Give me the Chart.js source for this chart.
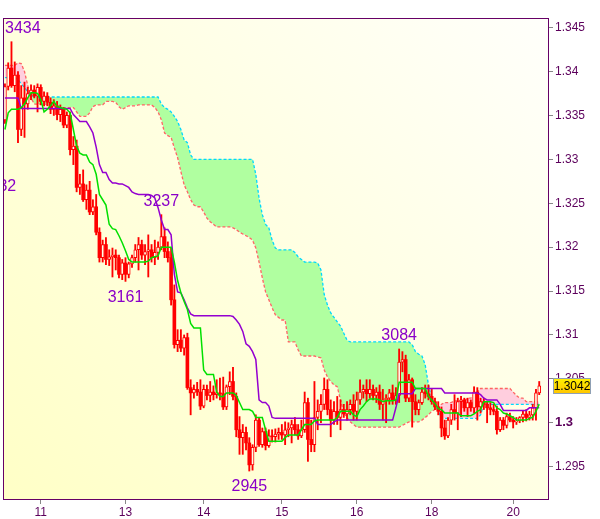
<!DOCTYPE html>
<html>
<head>
<meta charset="utf-8">
<script src="https://cdn.jsdelivr.net/npm/chart.js@4.4.1/dist/chart.umd.min.js"></script>
<style>
  html, body { margin: 0; padding: 0; background: #ffffff; }
  #wrap { width: 600px; height: 519px; }
</style>
</head>
<body>
<div id="wrap"><canvas id="ichimokuChart" width="600" height="519"></canvas></div>
<script>
// hourly bars, index 0..164
const dayTickIdx = [11, 37, 61, 85, 108, 131, 156];
const dayTickLbl = ['11', '13', '14', '15', '16', '18', '20'];
const priceTicks = [1.295, 1.3, 1.305, 1.31, 1.315, 1.32, 1.325, 1.33, 1.335, 1.34, 1.345];

const opens = [
  1.3345,1.3383,1.3404,1.3384,1.3396,1.3334,1.3370,1.3363,1.3375,1.3379,
  1.3372,1.3382,1.3366,1.3372,1.3365,1.3357,1.3361,1.3351,1.3357,1.3339,
  1.3350,1.3311,1.3315,1.3268,1.3272,1.3254,1.3265,1.3240,1.3246,1.3217,
  1.3188,1.3203,1.3186,1.3189,1.3191,1.3188,1.3169,1.3182,1.3169,1.3181,
  1.3188,1.3197,1.3203,1.3191,1.3195,1.3197,1.3188,1.3194,1.3200,1.3212,
  1.3195,1.3188,1.3140,1.3089,1.3094,1.3085,1.3097,1.3040,1.3034,1.3038,
  1.3035,1.3019,1.3038,1.3031,1.3035,1.3032,1.3034,1.3033,1.3018,1.3041,
  1.3047,1.3030,1.2992,1.2983,1.2989,1.2977,1.2952,1.2972,1.3003,1.2975,
  1.2990,1.2974,1.2985,1.2984,1.2987,1.2989,1.2986,1.2992,1.2994,1.2998,
  1.2992,1.2985,1.2992,1.3023,1.2981,1.2975,1.3006,1.3013,1.3021,1.3038,
  1.3015,1.3003,1.3013,1.3006,1.3015,1.3010,1.3015,1.3021,1.3013,1.3026,
  1.3035,1.3038,1.3033,1.3038,1.3031,1.3035,1.3021,1.3026,1.3028,1.3034,
  1.3026,1.3031,1.3069,1.3072,1.3028,1.3049,1.3024,1.3015,1.3023,1.3035,
  1.3033,1.3030,1.3024,1.3018,1.3013,1.2994,1.2985,1.3003,1.3015,1.3011,
  1.3024,1.3026,1.3017,1.3023,1.3017,1.3035,1.3018,1.3024,1.3021,1.3017,
  1.3015,1.3013,1.2992,1.3003,1.2997,1.3007,1.3003,1.3001,1.3002,1.3006,
  1.3010,1.3006,1.3009,1.3017,1.3034
];
const highs = [
  1.3386,1.3410,1.3434,1.3411,1.3400,1.3384,1.3388,1.3382,1.3385,1.3384,
  1.3386,1.3385,1.3377,1.3376,1.3370,1.3368,1.3366,1.3362,1.3359,1.3354,
  1.3354,1.3326,1.3322,1.3283,1.3288,1.3271,1.3275,1.3254,1.3260,1.3222,
  1.3208,1.3211,1.3197,1.3199,1.3197,1.3191,1.3186,1.3188,1.3183,1.3191,
  1.3203,1.3211,1.3208,1.3203,1.3214,1.3203,1.3208,1.3206,1.3237,1.3222,
  1.3206,1.3199,1.3157,1.3106,1.3106,1.3100,1.3102,1.3049,1.3043,1.3046,
  1.3049,1.3043,1.3043,1.3047,1.3042,1.3049,1.3051,1.3052,1.3043,1.3058,
  1.3063,1.3034,1.3007,1.2998,1.2995,1.2983,1.2975,1.3009,1.3006,1.2994,
  1.2994,1.2992,1.2992,1.2993,1.2994,1.2998,1.3001,1.3000,1.3003,1.3006,
  1.2998,1.3003,1.3035,1.3028,1.3003,1.3047,1.3026,1.3032,1.3051,1.3049,
  1.3026,1.3024,1.3030,1.3026,1.3021,1.3024,1.3026,1.3032,1.3035,1.3049,
  1.3043,1.3049,1.3049,1.3043,1.3040,1.3043,1.3038,1.3032,1.3038,1.3043,
  1.3040,1.3084,1.3081,1.3077,1.3055,1.3051,1.3032,1.3026,1.3040,1.3043,
  1.3043,1.3038,1.3028,1.3024,1.3018,1.3003,1.3006,1.3021,1.3032,1.3028,
  1.3030,1.3028,1.3028,1.3026,1.3041,1.3040,1.3028,1.3028,1.3024,1.3023,
  1.3021,1.3019,1.3006,1.3006,1.3011,1.3011,1.3007,1.3006,1.3007,1.3013,
  1.3015,1.3013,1.3021,1.3038,1.3047
];
const lows = [
  1.3341,1.3379,1.3382,1.3377,1.3319,1.3327,1.3325,1.3357,1.3368,1.3370,
  1.3354,1.3362,1.3361,1.3361,1.3352,1.3350,1.3345,1.3343,1.3336,1.3336,
  1.3305,1.3294,1.3263,1.3260,1.3252,1.3243,1.3237,1.3237,1.3214,1.3183,
  1.3183,1.3180,1.3179,1.3166,1.3174,1.3165,1.3163,1.3161,1.3165,1.3177,
  1.3183,1.3174,1.3186,1.3180,1.3166,1.3183,1.3180,1.3186,1.3197,1.3188,
  1.3183,1.3134,1.3085,1.3081,1.3081,1.3077,1.3038,1.3009,1.3028,1.3031,
  1.3015,1.3017,1.3026,1.3024,1.3026,1.3028,1.3026,1.3015,1.3015,1.3032,
  1.3026,1.2984,1.2964,1.2964,1.2969,1.2945,1.2946,1.2967,1.2973,1.2972,
  1.2969,1.2972,1.2978,1.2978,1.2981,1.2981,1.2975,1.2984,1.2977,1.2986,
  1.2981,1.2983,1.2989,1.2956,1.2967,1.2967,1.2992,1.3000,1.3015,1.3009,
  1.2984,1.2998,1.2998,1.2992,1.3006,1.3003,1.3009,1.3003,1.3003,1.3021,
  1.3028,1.3024,1.3028,1.3026,1.3023,1.3015,1.3003,1.3000,1.3021,1.3021,
  1.3021,1.3023,1.3058,1.3024,1.3024,1.2995,1.3009,1.3009,1.3021,1.3028,
  1.3026,1.3021,1.3015,1.3009,1.2984,1.2981,1.2983,1.2998,1.3003,1.2992,
  1.3007,1.3013,1.3007,1.3013,1.3011,1.3003,1.3011,1.3015,1.3000,1.3009,
  1.3009,1.2987,1.2990,1.2992,1.2994,1.3001,1.2994,1.2998,1.3000,1.3001,
  1.3002,1.3003,1.3003,1.3003,1.3032
];
const closes = [
  1.3383,1.3404,1.3384,1.3396,1.3334,1.3370,1.3363,1.3375,1.3379,1.3372,
  1.3382,1.3366,1.3372,1.3365,1.3357,1.3361,1.3351,1.3357,1.3339,1.3350,
  1.3311,1.3315,1.3268,1.3272,1.3254,1.3265,1.3240,1.3246,1.3217,1.3188,
  1.3203,1.3186,1.3189,1.3191,1.3188,1.3169,1.3182,1.3169,1.3181,1.3188,
  1.3197,1.3203,1.3191,1.3195,1.3197,1.3188,1.3194,1.3200,1.3212,1.3195,
  1.3188,1.3140,1.3089,1.3094,1.3085,1.3097,1.3040,1.3034,1.3038,1.3035,
  1.3019,1.3038,1.3031,1.3035,1.3032,1.3034,1.3033,1.3018,1.3041,1.3047,
  1.3030,1.2992,1.2983,1.2989,1.2977,1.2952,1.2972,1.3003,1.2975,1.2990,
  1.2974,1.2985,1.2984,1.2987,1.2989,1.2986,1.2992,1.2994,1.2998,1.2992,
  1.2985,1.2992,1.3023,1.2981,1.2975,1.3006,1.3013,1.3021,1.3038,1.3015,
  1.3003,1.3013,1.3006,1.3015,1.3010,1.3015,1.3021,1.3013,1.3026,1.3035,
  1.3038,1.3033,1.3038,1.3031,1.3035,1.3021,1.3026,1.3028,1.3034,1.3026,
  1.3031,1.3069,1.3072,1.3028,1.3049,1.3024,1.3015,1.3023,1.3035,1.3033,
  1.3030,1.3024,1.3018,1.3013,1.2994,1.2985,1.3003,1.3015,1.3011,1.3024,
  1.3026,1.3017,1.3023,1.3017,1.3035,1.3018,1.3024,1.3021,1.3017,1.3015,
  1.3013,1.2992,1.3003,1.2997,1.3007,1.3003,1.3001,1.3002,1.3006,1.3010,
  1.3006,1.3009,1.3017,1.3034,1.3042
];

const tenkan = [
  1.3334,1.3353,1.3357,1.3357,1.3357,1.3359,1.3363,1.3370,1.3376,1.3376,
  1.3375,1.3368,1.3354,1.3357,1.3361,1.3366,1.3360,1.3359,1.3358,1.3357,
  1.3353,1.3334,1.3315,1.3307,1.3305,1.3305,1.3297,1.3294,1.3283,1.3260,
  1.3254,1.3248,1.3226,1.3221,1.3220,1.3213,1.3205,1.3196,1.3186,1.3183,
  1.3183,1.3183,1.3183,1.3183,1.3184,1.3188,1.3189,1.3190,1.3200,1.3200,
  1.3200,1.3200,1.3183,1.3162,1.3148,1.3138,1.3129,1.3113,1.3108,1.3108,
  1.3108,1.3060,1.3055,1.3055,1.3055,1.3035,1.3030,1.3030,1.3034,1.3034,
  1.3034,1.3031,1.3023,1.3015,1.3015,1.3015,1.3013,1.3006,1.3006,1.3006,
  1.2992,1.2979,1.2979,1.2979,1.2979,1.2979,1.2983,1.2986,1.2986,1.2986,
  1.2986,1.2992,1.2998,1.2998,1.2998,1.3002,1.3003,1.3003,1.3003,1.3003,
  1.3003,1.3003,1.3006,1.3013,1.3013,1.3013,1.3013,1.3009,1.3007,1.3015,
  1.3019,1.3024,1.3027,1.3027,1.3027,1.3026,1.3024,1.3025,1.3025,1.3025,
  1.3026,1.3046,1.3046,1.3046,1.3046,1.3046,1.3039,1.3039,1.3039,1.3039,
  1.3030,1.3026,1.3022,1.3016,1.3015,1.3011,1.3011,1.3011,1.3011,1.3011,
  1.3008,1.3008,1.3008,1.3008,1.3010,1.3013,1.3015,1.3024,1.3024,1.3024,
  1.3023,1.3017,1.3015,1.3011,1.3010,1.3008,1.3006,1.3003,1.3003,1.3003,
  1.3003,1.3005,1.3006,1.3013,1.3021
];
const kijun = [
  1.3370,1.3370,1.3370,1.3370,1.3370,1.3358,1.3358,1.3358,1.3358,1.3358,
  1.3358,1.3358,1.3358,1.3358,1.3358,1.3358,1.3358,1.3358,1.3358,1.3358,
  1.3358,1.3351,1.3347,1.3343,1.3343,1.3343,1.3337,1.3330,1.3314,1.3294,
  1.3285,1.3285,1.3277,1.3273,1.3273,1.3272,1.3272,1.3270,1.3268,1.3263,
  1.3261,1.3260,1.3260,1.3260,1.3260,1.3259,1.3256,1.3245,1.3231,1.3220,
  1.3220,1.3214,1.3169,1.3149,1.3148,1.3140,1.3131,1.3124,1.3122,1.3122,
  1.3122,1.3122,1.3122,1.3122,1.3122,1.3122,1.3122,1.3122,1.3122,1.3122,
  1.3121,1.3117,1.3112,1.3104,1.3090,1.3087,1.3081,1.3072,1.3026,1.3023,
  1.3023,1.3019,1.3006,1.3005,1.3005,1.3005,1.3005,1.3005,1.3005,1.3005,
  1.3005,1.3005,1.3005,1.3005,1.3005,1.3005,1.2998,1.2998,1.2998,1.2998,
  1.2998,1.3001,1.3003,1.3003,1.3003,1.3003,1.3003,1.3003,1.3003,1.3003,
  1.3003,1.3003,1.3003,1.3003,1.3003,1.3003,1.3003,1.3003,1.3003,1.3003,
  1.3017,1.3033,1.3033,1.3033,1.3033,1.3033,1.3039,1.3039,1.3039,1.3039,
  1.3039,1.3039,1.3039,1.3039,1.3039,1.3034,1.3034,1.3034,1.3034,1.3034,
  1.3034,1.3034,1.3034,1.3034,1.3034,1.3034,1.3032,1.3028,1.3026,1.3026,
  1.3026,1.3026,1.3021,1.3014,1.3014,1.3014,1.3014,1.3014,1.3014,1.3014,
  1.3014,1.3017,1.3017,1.3017,1.3017
];
const spanA = [
  1.3393,1.3393,1.3393,1.3393,1.3391,1.3386,1.3382,1.3377,1.3374,1.3371,
  1.3371,1.3371,1.3371,1.3371,1.3371,1.3371,1.3371,1.3371,1.3371,1.3371,
  1.3371,1.3371,1.3371,1.3371,1.3371,1.3371,1.3371,1.3371,1.3371,1.3371,
  1.3371,1.3371,1.3371,1.3371,1.3371,1.3371,1.3371,1.3371,1.3371,1.3371,
  1.3371,1.3371,1.3371,1.3371,1.3371,1.3371,1.3371,1.3371,1.3363,1.3359,
  1.3357,1.3354,1.3349,1.3343,1.3334,1.3322,1.3319,1.3305,1.3300,1.3300,
  1.3300,1.3300,1.3300,1.3300,1.3300,1.3300,1.3300,1.3300,1.3300,1.3300,
  1.3300,1.3300,1.3300,1.3300,1.3300,1.3300,1.3300,1.3283,1.3256,1.3237,
  1.3226,1.3222,1.3208,1.3199,1.3197,1.3197,1.3197,1.3197,1.3197,1.3194,
  1.3189,1.3186,1.3183,1.3183,1.3183,1.3183,1.3182,1.3174,1.3146,1.3134,
  1.3125,1.3120,1.3115,1.3110,1.3102,1.3094,1.3092,1.3092,1.3092,1.3092,
  1.3092,1.3092,1.3092,1.3092,1.3092,1.3092,1.3092,1.3092,1.3092,1.3092,
  1.3092,1.3092,1.3092,1.3092,1.3092,1.3089,1.3081,1.3078,1.3076,1.3066,
  1.3043,1.3028,1.3021,1.3013,1.3005,1.3005,1.3005,1.3005,1.3005,1.3005,
  1.3005,1.3005,1.3005,1.3005,1.3005,1.3005,1.3009,1.3021,1.3021,1.3021,
  1.3021,1.3021,1.3021,1.3021,1.3021,1.3021,1.3021,1.3021,1.3021,1.3021,
  1.3021,1.3021,1.3021,1.3021,1.3021
];
const spanB = [
  1.3407,1.3407,1.3407,1.3407,1.3410,1.3409,1.3400,1.3384,1.3370,1.3363,
  1.3363,1.3363,1.3363,1.3363,1.3359,1.3359,1.3359,1.3359,1.3359,1.3359,
  1.3359,1.3359,1.3354,1.3349,1.3349,1.3349,1.3353,1.3360,1.3362,1.3362,
  1.3362,1.3366,1.3366,1.3366,1.3365,1.3360,1.3357,1.3359,1.3361,1.3361,
  1.3361,1.3362,1.3362,1.3362,1.3362,1.3362,1.3359,1.3354,1.3345,1.3330,
  1.3327,1.3325,1.3313,1.3302,1.3286,1.3271,1.3263,1.3254,1.3248,1.3246,
  1.3246,1.3240,1.3233,1.3229,1.3226,1.3223,1.3223,1.3223,1.3223,1.3223,
  1.3222,1.3220,1.3217,1.3215,1.3213,1.3211,1.3208,1.3199,1.3183,1.3165,
  1.3149,1.3140,1.3131,1.3123,1.3120,1.3117,1.3117,1.3092,1.3092,1.3092,
  1.3083,1.3076,1.3076,1.3076,1.3076,1.3076,1.3075,1.3074,1.3060,1.3052,
  1.3047,1.3043,1.3041,1.3026,1.3011,1.3006,1.3001,1.2998,1.2995,1.2995,
  1.2995,1.2995,1.2995,1.2995,1.2995,1.2995,1.2995,1.2995,1.2995,1.2995,
  1.2995,1.2995,1.2997,1.2999,1.3001,1.3001,1.3001,1.3001,1.3003,1.3006,
  1.3009,1.3013,1.3015,1.3018,1.3021,1.3023,1.3023,1.3023,1.3025,1.3025,
  1.3025,1.3025,1.3028,1.3028,1.3032,1.3035,1.3039,1.3039,1.3039,1.3039,
  1.3039,1.3039,1.3039,1.3039,1.3039,1.3039,1.3035,1.3031,1.3028,1.3028,
  1.3024,1.3024,1.3024,1.3024,1.3024
];

// last 4 digits of highs / lows written on the chart
const hiLoMarks = [
  { i: 2, v: 1.3434, text: '3434', pos: 'above' },
  { i: -2, v: 1.3287, text: '3332', pos: 'below' },
  { i: 48, v: 1.3237, text: '3237', pos: 'above' },
  { i: 37, v: 1.3161, text: '3161', pos: 'below' },
  { i: 75, v: 1.2945, text: '2945', pos: 'below' },
  { i: 121, v: 1.3084, text: '3084', pos: 'above' }
];

const FONT = '"Liberation Sans", Arial, sans-serif';
const axisColor = '#5c005c';
const frameColor = '#660066';

const wicks = [], bullBodies = [], bearBodies = [];
for (let i = 0; i < closes.length; i++) {
  wicks.push({ x: i, y: [lows[i], highs[i]] });
  if (closes[i] >= opens[i]) bullBodies.push({ x: i, y: [opens[i], closes[i]] });
  else bearBodies.push({ x: i, y: [closes[i], opens[i]] });
}
const toXY = arr => arr.map((v, i) => ({ x: i, y: v }));

const backgroundPlugin = {
  id: 'backgroundPlugin',
  beforeDraw(chart) {
    const { ctx, chartArea: a } = chart;
    ctx.save();
    ctx.fillStyle = '#ffffff';
    ctx.fillRect(0, 0, chart.width, chart.height);
    const g = ctx.createLinearGradient(a.right, a.top, a.left, a.bottom);
    g.addColorStop(0, '#fffffb');
    g.addColorStop(1, '#ffffc6');
    ctx.fillStyle = g;
    ctx.fillRect(a.left, a.top, a.right - a.left, a.bottom - a.top);
    ctx.restore();
  }
};

const overlayPlugin = {
  id: 'overlayPlugin',
  afterDatasetsDraw(chart) {
    const { ctx, chartArea: a } = chart;
    const xs = chart.scales.x, ys = chart.scales.y;
    ctx.save();
    ctx.beginPath();
    ctx.rect(a.left, a.top, a.right - a.left, a.bottom - a.top);
    ctx.clip();
    ctx.font = '16px ' + FONT;
    ctx.fillStyle = '#8a00c8';
    ctx.textAlign = 'center';
    ctx.textBaseline = 'middle';
    hiLoMarks.forEach(m => {
      let x = xs.getPixelForValue(m.i);
      const w = ctx.measureText(m.text).width;
      if (m.i >= 0) x = Math.max(x, a.left + w / 2 + 2);
      const y = ys.getPixelForValue(m.v) + (m.pos === 'above' ? -13 : 16);
      ctx.fillText(m.text, x, y);
    });
    ctx.restore();
  },
  afterDraw(chart) {
    const { ctx, chartArea: a } = chart;
    const ys = chart.scales.y;
    ctx.save();
    ctx.strokeStyle = frameColor;
    ctx.lineWidth = 1;
    ctx.strokeRect(Math.round(a.left) + 0.5, Math.round(a.top) + 0.5,
      Math.round(a.right - a.left) - 1, Math.round(a.bottom - a.top) - 1);

    // current price box
    const last = closes[closes.length - 1];
    const y = Math.round(ys.getPixelForValue(last));
    const bx = a.right + 4, bw = 38, bh = 16, by = y - 8;
    const g = ctx.createLinearGradient(0, by, 0, by + bh);
    g.addColorStop(0, '#fff200');
    g.addColorStop(1, '#ffc400');
    ctx.fillStyle = g;
    ctx.fillRect(bx, by, bw, bh);
    ctx.strokeStyle = '#8fa0b4';
    ctx.strokeRect(bx + 0.5, by + 0.5, bw - 1, bh - 1);
    ctx.fillStyle = '#000000';
    ctx.font = '12px ' + FONT;
    ctx.textAlign = 'center';
    ctx.textBaseline = 'middle';
    ctx.fillText(last.toFixed(4), bx + bw / 2, y + 1);
    ctx.restore();
  }
};

const ctx = document.getElementById('ichimokuChart').getContext('2d');
const ichimokuChart = new Chart(ctx, {
  type: 'bar',
  data: {
    datasets: [
      {
        type: 'line', label: 'Senkou B', data: toXY(spanB), order: 10,
        borderColor: '#ff6464', borderWidth: 1.3, borderDash: [3, 2],
        pointRadius: 0, tension: 0, fill: false
      },
      {
        type: 'line', label: 'Senkou A', data: toXY(spanA), order: 9,
        borderColor: '#00d8ff', borderWidth: 1.3, borderDash: [3, 2],
        pointRadius: 0, tension: 0,
        fill: { target: 0, above: 'rgb(176,255,160)', below: 'rgb(255,206,222)' }
      },
      {
        label: 'Wick', data: wicks, order: 8, grouped: false,
        backgroundColor: '#ff0000', barThickness: 1.2, borderWidth: 0
      },
      {
        label: 'Down', data: bearBodies, order: 7, grouped: false,
        backgroundColor: '#ff0000', borderColor: '#ff0000', borderWidth: 0,
        barThickness: 3
      },
      {
        label: 'Up', data: bullBodies, order: 6, grouped: false,
        backgroundColor: '#ffffe8', borderColor: '#ff0000', borderWidth: 1,
        borderSkipped: false, barThickness: 3
      },
      {
        type: 'line', label: 'Kijun', data: toXY(kijun), order: 2,
        borderColor: '#9400d0', borderWidth: 1.5, pointRadius: 0, tension: 0, fill: false
      },
      {
        type: 'line', label: 'Tenkan', data: toXY(tenkan), order: 1,
        borderColor: '#00e000', borderWidth: 1.5, pointRadius: 0, tension: 0, fill: false
      }
    ]
  },
  options: {
    responsive: false,
    animation: false,
    devicePixelRatio: 1,
    layout: { padding: { top: 18, left: 3, right: 0, bottom: 0 } },
    plugins: {
      legend: { display: false },
      tooltip: { enabled: false },
      filler: { drawTime: 'beforeDatasetsDraw' }
    },
    scales: {
      x: {
        type: 'linear', min: -0.6, max: 167, offset: false,
        afterBuildTicks: s => { s.ticks = dayTickIdx.map(v => ({ value: v })); },
        afterFit: s => { s.height = 19; },
        ticks: {
          callback: v => dayTickLbl[dayTickIdx.indexOf(v)],
          color: axisColor, font: { size: 12, family: FONT },
          padding: 1, maxRotation: 0, autoSkip: false
        },
        grid: { offset: false, drawOnChartArea: false, drawTicks: true, tickLength: 4, color: '#888888' },
        border: { display: false }
      },
      y: {
        position: 'right', min: 1.2912, max: 1.3461,
        afterBuildTicks: s => { s.ticks = priceTicks.map(v => ({ value: v })); },
        afterFit: s => { s.width = 51; },
        ticks: {
          callback: v => String(v),
          color: axisColor,
          font: c => ({ size: c.tick && c.tick.value === 1.3 ? 13 : 12, family: FONT,
            weight: c.tick && c.tick.value === 1.3 ? 'bold' : 'normal' }),
          padding: 2
        },
        grid: { drawOnChartArea: false, drawTicks: true, tickLength: 4, color: '#888888' },
        border: { display: false }
      }
    }
  },
  plugins: [backgroundPlugin, overlayPlugin]
});
</script>
</body>
</html>
